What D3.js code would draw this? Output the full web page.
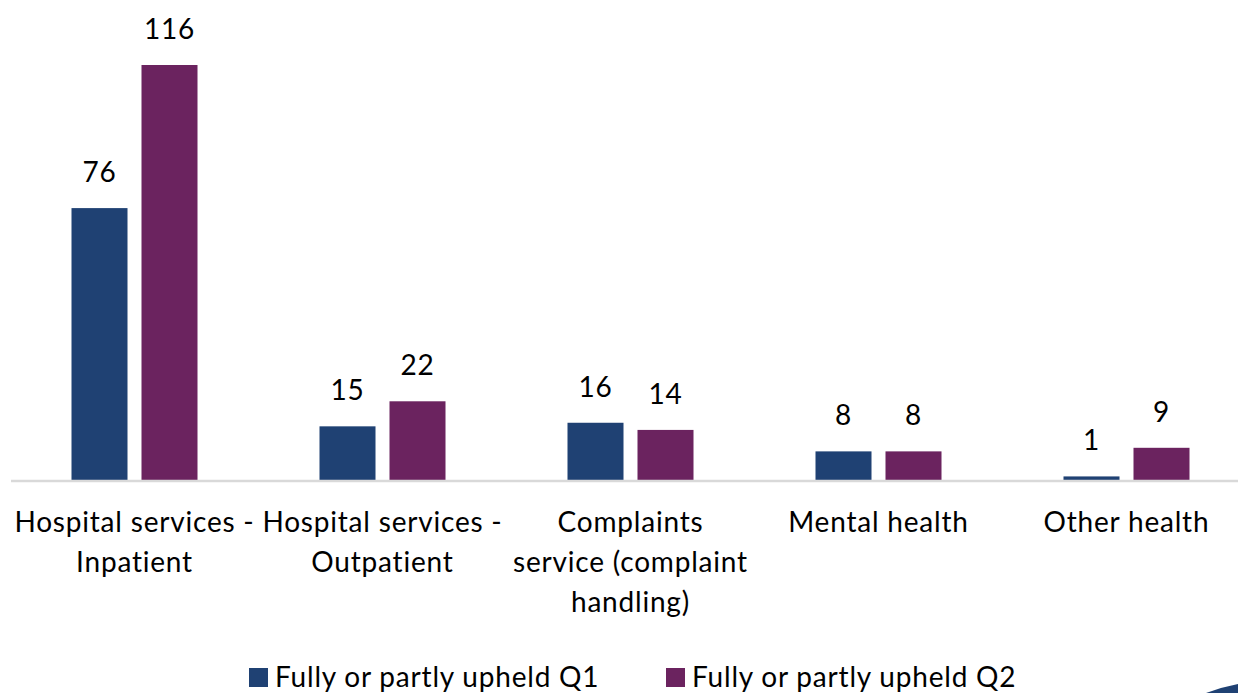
<!DOCTYPE html>
<html>
<head>
<meta charset="utf-8">
<script src="https://cdn.jsdelivr.net/npm/d3@7"></script>
<style>
  html, body { margin: 0; padding: 0; background: #ffffff; }
  svg { display: block; font-family: Lato, "Open Sans", sans-serif; letter-spacing: 0.8px; }
</style>
</head>
<body>
<svg id="chart" width="1238" height="693"></svg>
<script>
// Upheld complaints by subject, two quarters
const categories = [
  ["Hospital services -", "Inpatient"],
  ["Hospital services -", "Outpatient"],
  ["Complaints", "service (complaint", "handling)"],
  ["Mental health"],
  ["Other health"]
];
const seriesNames = ["Fully or partly upheld Q1", "Fully or partly upheld Q2"];
const q1Values = [76, 15, 16, 8, 1];
const q2Values = [116, 22, 14, 8, 9];
const seriesColors = ["#1f4173", "#6b235f"];

const W = 1238, H = 693;
const svg = d3.select("#chart");

const baseline = 480;
const x0 = d3.scaleBand()
  .domain(d3.range(categories.length))
  .range([10.5, 1250.5])
  .paddingInner(0)
  .paddingOuter(0);

const x1 = d3.scaleBand()
  .domain([0, 1])
  .range([(248 - 126) / 2, (248 + 126) / 2])
  .paddingInner(14 / 126 * 2 / (1 + 14 / 126))
  .paddingOuter(0);

const y = d3.scaleLinear().domain([0, 116]).range([baseline, 65]);

const rows = categories.map((c, i) => ({ i, vals: [q1Values[i], q2Values[i]] }));

// bars
const groups = svg.append("g").selectAll("g").data(rows).join("g")
  .attr("transform", d => `translate(${x0(d.i)},0)`);

groups.selectAll("rect").data(d => d.vals.map((v, s) => ({ v, s }))).join("rect")
  .attr("x", d => x1(d.s))
  .attr("width", x1.bandwidth())
  .attr("y", d => y(d.v))
  .attr("height", d => baseline - y(d.v))
  .attr("fill", d => seriesColors[d.s]);

// value labels
groups.selectAll("text.val").data(d => d.vals.map((v, s) => ({ v, s }))).join("text")
  .attr("class", "val")
  .attr("x", d => x1(d.s) + x1.bandwidth() / 2)
  .attr("y", d => y(d.v) - 26)
  .attr("text-anchor", "middle")
  .attr("font-size", 28)
  .attr("fill", "#000")
  .text(d => d.v);

// baseline axis
svg.append("line")
  .attr("x1", 11).attr("x2", W)
  .attr("y1", baseline + 1).attr("y2", baseline + 1)
  .attr("stroke", "#d9d9d9").attr("stroke-width", 2.5);

// category labels
const catG = svg.append("g").selectAll("text").data(categories).join("text")
  .attr("x", (d, i) => x0(i) + x0.bandwidth() / 2)
  .attr("text-anchor", "middle")
  .attr("font-size", 28)
  .attr("fill", "#000");
catG.selectAll("tspan").data(d => d).join("tspan")
  .attr("x", function () { return d3.select(this.parentNode).attr("x"); })
  .attr("y", (d, j) => 532 + j * 40)
  .text(d => d);

// legend
const legendItems = [
  { name: seriesNames[0], color: seriesColors[0], x: 249 },
  { name: seriesNames[1], color: seriesColors[1], x: 666 }
];
const lg = svg.append("g").selectAll("g").data(legendItems).join("g")
  .attr("transform", d => `translate(${d.x},668)`);
lg.append("rect").attr("width", 19).attr("height", 19).attr("fill", d => d.color);
lg.append("text").attr("x", 26).attr("y", 19)
  .attr("font-size", 28).attr("fill", "#000")
  .text(d => d.name);

// corner accent
svg.append("path")
  .attr("d", `M1206,${H} Q1222,687 ${W},684 L${W},${H} Z`)
  .attr("fill", "#1f4173");
</script>
</body>
</html>
